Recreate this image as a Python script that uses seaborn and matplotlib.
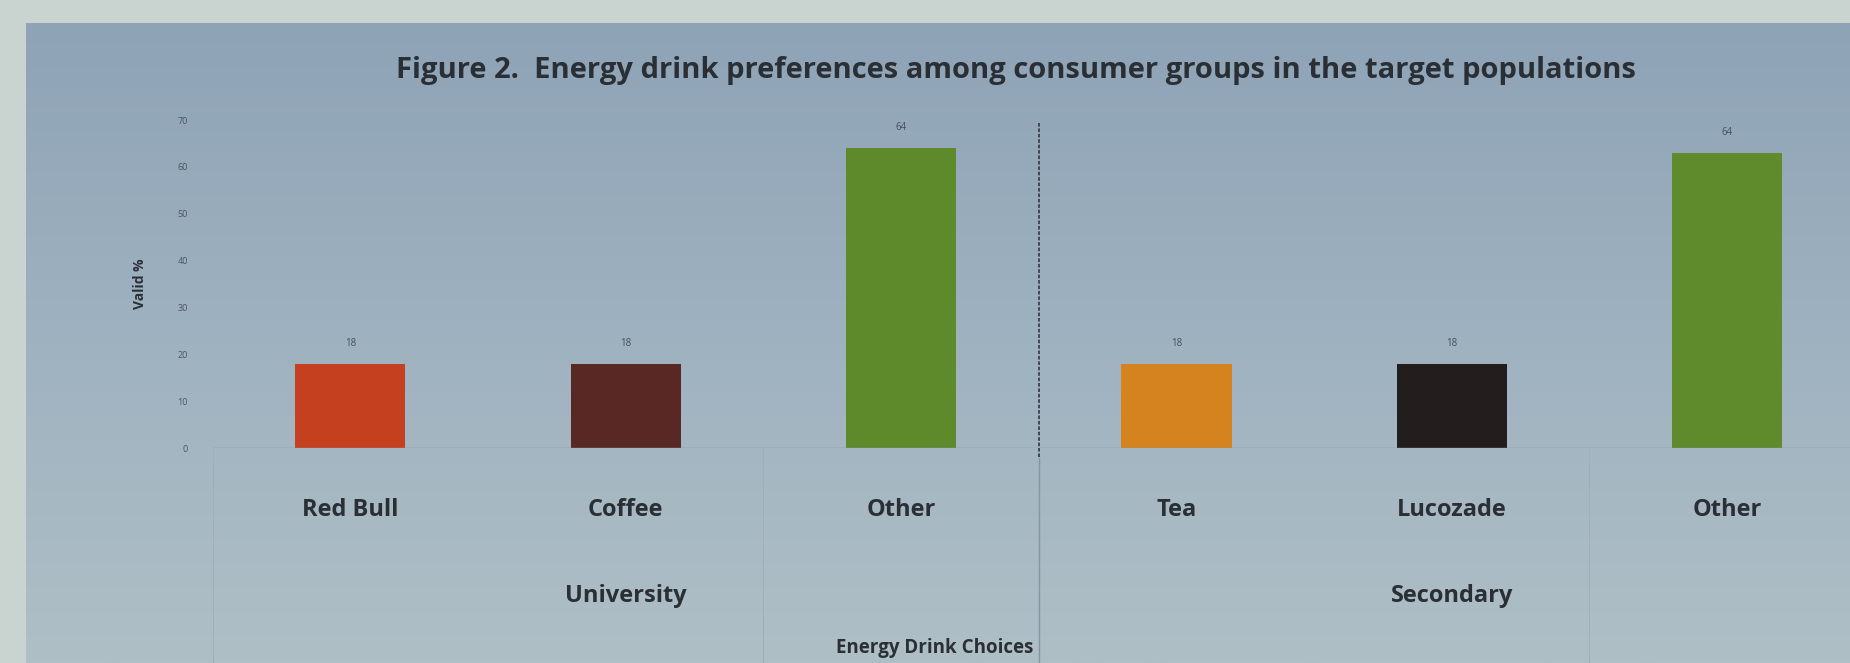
import numpy as np
import pandas as pd
import matplotlib
matplotlib.use("Agg")
import matplotlib.pyplot as plt
import seaborn as sns

categories = ["Red Bull", "Coffee", "Other", "Tea", "Lucozade", "Other"]
groups = ["University", "Secondary"]
values = [18, 18, 64, 18, 18, 63]
value_labels = ["18", "18", "64", "18", "18", "64"]
colors = ["#c4401f", "#5a2824", "#5e8a2c", "#d4831f", "#231d1e", "#5f8b2c"]
yticks = [0, 10, 20, 30, 40, 50, 60, 70]

sns.set_theme(style="white")
plt.rcParams["font.family"] = ["Open Sans", "DejaVu Sans"]

keys = [f"{i}_{c}" for i, c in enumerate(categories)]
df = pd.DataFrame({"key": keys, "value": values})

fig = plt.figure(figsize=(18.5, 6.63), dpi=100)
fig.patch.set_facecolor("#c9d3cf")

# slide background (photo of projected slide)
bg = fig.add_axes([0.014, 0.0, 0.986, 0.966])
grad = np.linspace(0, 1, 256).reshape(-1, 1)
cmap = matplotlib.colors.LinearSegmentedColormap.from_list("bg", ["#8ea3b6", "#9fb2c0", "#afbfc6"])
bg.imshow(grad, aspect="auto", cmap=cmap, extent=[0, 1, 0, 1], origin="upper")
bg.set_axis_off()

ax = fig.add_axes([0.115, 0.324, 0.893, 0.495])
ax.patch.set_alpha(0)
sns.barplot(data=df, x="key", y="value", hue="key", palette=colors, order=keys,
            width=0.4, legend=False, ax=ax, saturation=1, edgecolor="none", linewidth=0)
ax.set_ylim(0, 70)
ax.set_xlim(-0.5, 5.5)
ax.set_yticks(yticks)
ax.set_yticklabels([str(t) for t in yticks], fontsize=6.5, color="#4a5560")
ax.tick_params(axis="y", length=0, pad=18)
ax.set_xticks(range(len(categories)))
ax.set_xticklabels(categories, fontsize=17, fontweight="bold", color="#2a2f35")
ax.tick_params(axis="x", length=0, pad=36)
for s in ax.spines.values():
    s.set_visible(False)
ax.axhline(0, color="#8795a0", lw=1)
ax.set_ylabel("Valid %", fontsize=10, fontweight="bold", color="#2a2f35", labelpad=22)
ax.set_xlabel("")

for p, lab in zip(ax.patches, value_labels):
    ax.annotate(lab, (p.get_x() + p.get_width() / 2, p.get_height()),
                xytext=(0, 11), textcoords="offset points", ha="center", va="bottom",
                fontsize=7, color="#46505a")

# group divider and category separators
trans = ax.get_xaxis_transform()
ax.plot([2.5, 2.5], [0.99, -0.03], transform=trans, color="#3a3f4a", lw=1.3,
        ls=(0, (2, 1)), clip_on=False)
ax.plot([2.5, 2.5], [-0.03, -0.66], transform=trans, color="#8795a0", lw=1, clip_on=False)
for xs in [-0.5, 1.5, 4.5]:
    ax.plot([xs, xs], [0, -0.66], transform=trans, color="#a0afb7", lw=0.7, clip_on=False)

for gi, g in enumerate(groups):
    ax.text(1 + 3 * gi, -0.45, g, transform=trans, ha="center", va="center",
            fontsize=17, fontweight="bold", color="#2a2f35")

fig.text(0.505, 0.022, "Energy Drink Choices", ha="center", va="center",
         fontsize=13.5, fontweight="bold", color="#2a2f35")
fig.text(0.549, 0.893, "Figure 2.  Energy drink preferences among consumer groups in the target populations",
         ha="center", va="center", fontsize=21, fontweight="bold", color="#2a2f35")

fig.savefig("out.png", dpi=100, facecolor=fig.get_facecolor())
